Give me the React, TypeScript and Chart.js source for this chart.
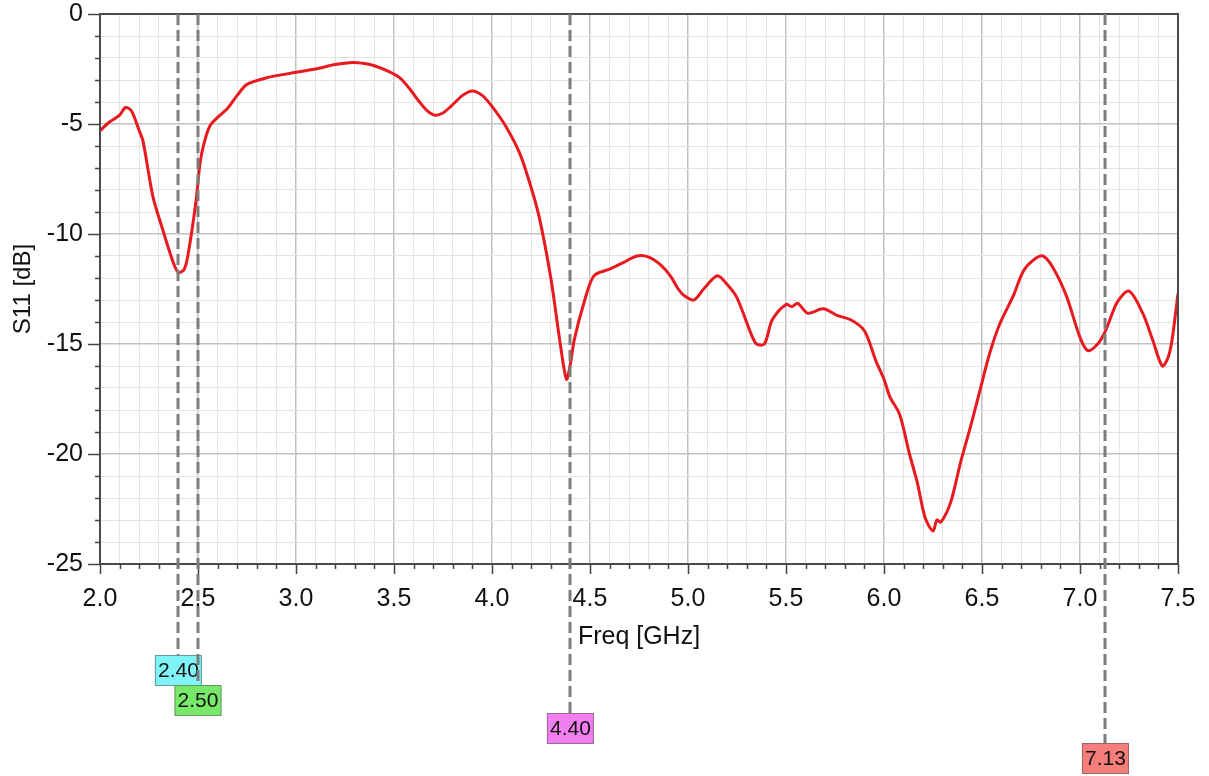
import React, { useEffect, useRef } from "react";
import { Chart, registerables } from "chart.js";

Chart.register(...registerables);

// ---- data ----
const freqGHz: number[] = [
  2.0, 2.05, 2.1, 2.13, 2.16, 2.2, 2.22, 2.27, 2.32, 2.37, 2.4, 2.43, 2.45, 2.49, 2.51, 2.53, 2.56, 2.6,
  2.65, 2.7, 2.75, 2.85, 3.0, 3.1, 3.2, 3.29, 3.35, 3.4, 3.47, 3.53, 3.58, 3.63, 3.67, 3.71, 3.75, 3.79,
  3.85, 3.9, 3.95, 4.0, 4.07, 4.14, 4.19, 4.24, 4.3, 4.35, 4.38, 4.4, 4.42, 4.47, 4.52, 4.6, 4.67, 4.74,
  4.8, 4.86, 4.91, 4.95, 4.98, 5.03, 5.08, 5.15, 5.2, 5.25, 5.32, 5.35, 5.39, 5.43, 5.5, 5.53,
  5.56, 5.61, 5.69, 5.76, 5.83, 5.9, 5.96, 6.0, 6.03, 6.08, 6.13, 6.17, 6.21, 6.25, 6.27, 6.29, 6.34,
  6.39, 6.44, 6.49, 6.54, 6.59, 6.66, 6.71, 6.76, 6.81, 6.86, 6.93, 7.0, 7.04, 7.09, 7.13, 7.19, 7.25,
  7.32, 7.37, 7.42, 7.45, 7.47, 7.5,
];
const s11dB: number[] = [
  -5.3, -4.9, -4.6, -4.25, -4.4, -5.3, -5.8, -8.3, -9.8, -11.2, -11.75, -11.6, -10.9, -8.5, -6.8, -5.9, -5.1, -4.7,
  -4.3, -3.7, -3.2, -2.9, -2.65, -2.5, -2.3, -2.2, -2.25, -2.35, -2.6, -2.9, -3.4, -4.0, -4.4, -4.6, -4.5, -4.2,
  -3.7, -3.5, -3.7, -4.2, -5.1, -6.3, -7.6, -9.2, -12.0, -15.1, -16.6, -15.9, -14.8, -13.1, -11.9, -11.6, -11.3, -11.0,
  -11.05, -11.4, -11.9, -12.5, -12.8, -13.0, -12.5, -11.9, -12.3, -12.9, -14.5, -15.0, -15.0, -13.9, -13.2, -13.3,
  -13.15, -13.6, -13.4, -13.7, -13.9, -14.4, -15.8, -16.6, -17.4, -18.2, -20.0, -21.3, -22.9, -23.5, -23.0, -23.1, -22.2,
  -20.4, -18.8, -17.1, -15.4, -14.1, -12.8, -11.7, -11.2, -11.0, -11.5, -12.8, -14.7, -15.3, -15.0, -14.4, -13.1, -12.6,
  -13.6, -14.8, -16.0, -15.6, -14.8, -12.7,
];
const markerFreqs: number[] = [2.4, 2.5, 4.4, 7.13];
const markerLabels: string[] = ["2.40", "2.50", "4.40", "7.13"];
const xTitle = "Freq [GHz]";
const yTitle = "S11 [dB]";

// ---- styles ----
const markerColors = ["#7ff3f7", "#78e86a", "#f27ff0", "#f57d7a"];
const markerBoxTops = [655, 685, 713, 743]; // px from canvas top
const FONT = "'Liberation Sans', Arial, sans-serif";

const isMajor = (v: number, step: number) => Math.abs(v / step - Math.round(v / step)) < 1e-6;

const decorPlugin = {
  id: "decor",
  afterDraw(chart: any) {
    const { ctx, chartArea: a, scales } = chart;
    const xs = scales.x;
    const ys = scales.y;
    ctx.save();
    // tick marks
    ctx.strokeStyle = "#444";
    ctx.lineWidth = 1.5;
    ctx.beginPath();
    for (let v = -25; v <= 0; v++) {
      const py = Math.round(ys.getPixelForValue(v)) + 0.5;
      const len = v % 5 === 0 ? 12 : 5;
      ctx.moveTo(a.left - len, py);
      ctx.lineTo(a.left, py);
    }
    for (let i = 0; i <= 55; i++) {
      const v = 2 + i * 0.1;
      const px = Math.round(xs.getPixelForValue(v)) + 0.5;
      const len = i % 5 === 0 ? 10 : 5;
      ctx.moveTo(px, a.bottom);
      ctx.lineTo(px, a.bottom + len);
    }
    ctx.stroke();
    // frame
    ctx.strokeStyle = "#4a4a4a";
    ctx.lineWidth = 2;
    ctx.strokeRect(a.left, a.top, a.right - a.left, a.bottom - a.top);
    // titles
    ctx.fillStyle = "#111";
    ctx.font = `25px ${FONT}`;
    ctx.textAlign = "center";
    ctx.textBaseline = "middle";
    ctx.fillText(xTitle, (a.left + a.right) / 2, 637);
    ctx.save();
    ctx.translate(23, (a.top + a.bottom) / 2);
    ctx.rotate(-Math.PI / 2);
    ctx.font = `24px ${FONT}`;
    ctx.fillText(yTitle, 0, 0);
    ctx.restore();
    // marker boxes
    const bw = 47;
    const bh = 31;
    markerFreqs.forEach((f, i) => {
      const px = xs.getPixelForValue(f);
      const top = markerBoxTops[i];
      ctx.fillStyle = markerColors[i];
      ctx.fillRect(px - bw / 2, top, bw, bh);
      ctx.strokeStyle = "rgba(90,90,90,0.6)";
      ctx.lineWidth = 1;
      ctx.strokeRect(px - bw / 2 + 0.5, top + 0.5, bw - 1, bh - 1);
      ctx.fillStyle = "#111";
      ctx.font = `21px ${FONT}`;
      ctx.textAlign = "center";
      ctx.textBaseline = "middle";
      ctx.fillText(markerLabels[i], px, top + bh / 2 + 1);
    });
    // marker lines
    ctx.strokeStyle = "#7c7c7c";
    ctx.lineWidth = 3;
    ctx.setLineDash([11, 5]);
    markerFreqs.forEach((f, i) => {
      const px = Math.round(xs.getPixelForValue(f));
      ctx.beginPath();
      ctx.moveTo(px, a.top);
      ctx.lineTo(px, markerBoxTops[i]);
      ctx.stroke();
    });
    ctx.restore();
  },
};

export default function App() {
  const ref = useRef<HTMLCanvasElement | null>(null);
  useEffect(() => {
    if (!ref.current) return;
    const chart = new Chart(ref.current, {
      type: "line",
      data: {
        datasets: [
          {
            label: "S11",
            data: freqGHz.map((f, i) => ({ x: f, y: s11dB[i] })),
            borderColor: "#e8191f",
            borderWidth: 3,
            pointRadius: 0,
            tension: 0.3,
            fill: false,
          },
        ],
      },
      options: {
        animation: false,
        responsive: false,
        devicePixelRatio: 1,
        layout: { padding: { left: 0, top: 14, right: 31, bottom: 0 } },
        plugins: { legend: { display: false }, tooltip: { enabled: false } },
        scales: {
          x: {
            type: "linear",
            min: 2,
            max: 7.5,
            afterFit: (s: any) => {
              s.height = 212;
            },
            border: { display: false },
            grid: {
              drawTicks: true,
              tickLength: 23,
              tickColor: "rgba(0,0,0,0)",
              color: (c: any) => (c.tick && isMajor(c.tick.value, 0.5) ? "#c2c2c2" : "#e4e4e4"),
              lineWidth: (c: any) => (c.tick && isMajor(c.tick.value, 0.5) ? 1.5 : 1),
            },
            ticks: {
              stepSize: 0.1,
              autoSkip: false,
              maxTicksLimit: 100,
              maxRotation: 0,
              padding: 0,
              color: "#111",
              font: { family: FONT, size: 25, lineHeight: 1 },
              callback: (v: any) => (isMajor(Number(v), 0.5) ? Number(v).toFixed(1) : ""),
            },
          },
          y: {
            type: "linear",
            min: -25,
            max: 0,
            afterFit: (s: any) => {
              s.width = 100;
            },
            border: { display: false },
            grid: {
              drawTicks: true,
              tickLength: 17,
              tickColor: "rgba(0,0,0,0)",
              color: (c: any) => (c.tick && isMajor(c.tick.value, 5) ? "#c2c2c2" : "#e4e4e4"),
              lineWidth: (c: any) => (c.tick && isMajor(c.tick.value, 5) ? 1.5 : 1),
            },
            ticks: {
              stepSize: 1,
              autoSkip: false,
              maxTicksLimit: 100,
              padding: 0,
              color: "#111",
              font: { family: FONT, size: 25, lineHeight: 1 },
              callback: (v: any) => (isMajor(Number(v), 5) ? String(Math.round(Number(v))) : ""),
            },
          },
        },
      },
      plugins: [decorPlugin],
    });
    return () => chart.destroy();
  }, []);
  return (
    <div style={{ position: "fixed", left: 0, top: 0, width: 1209, height: 776, background: "#fff" }}>
      <canvas ref={ref} width={1209} height={776} />
    </div>
  );
}
